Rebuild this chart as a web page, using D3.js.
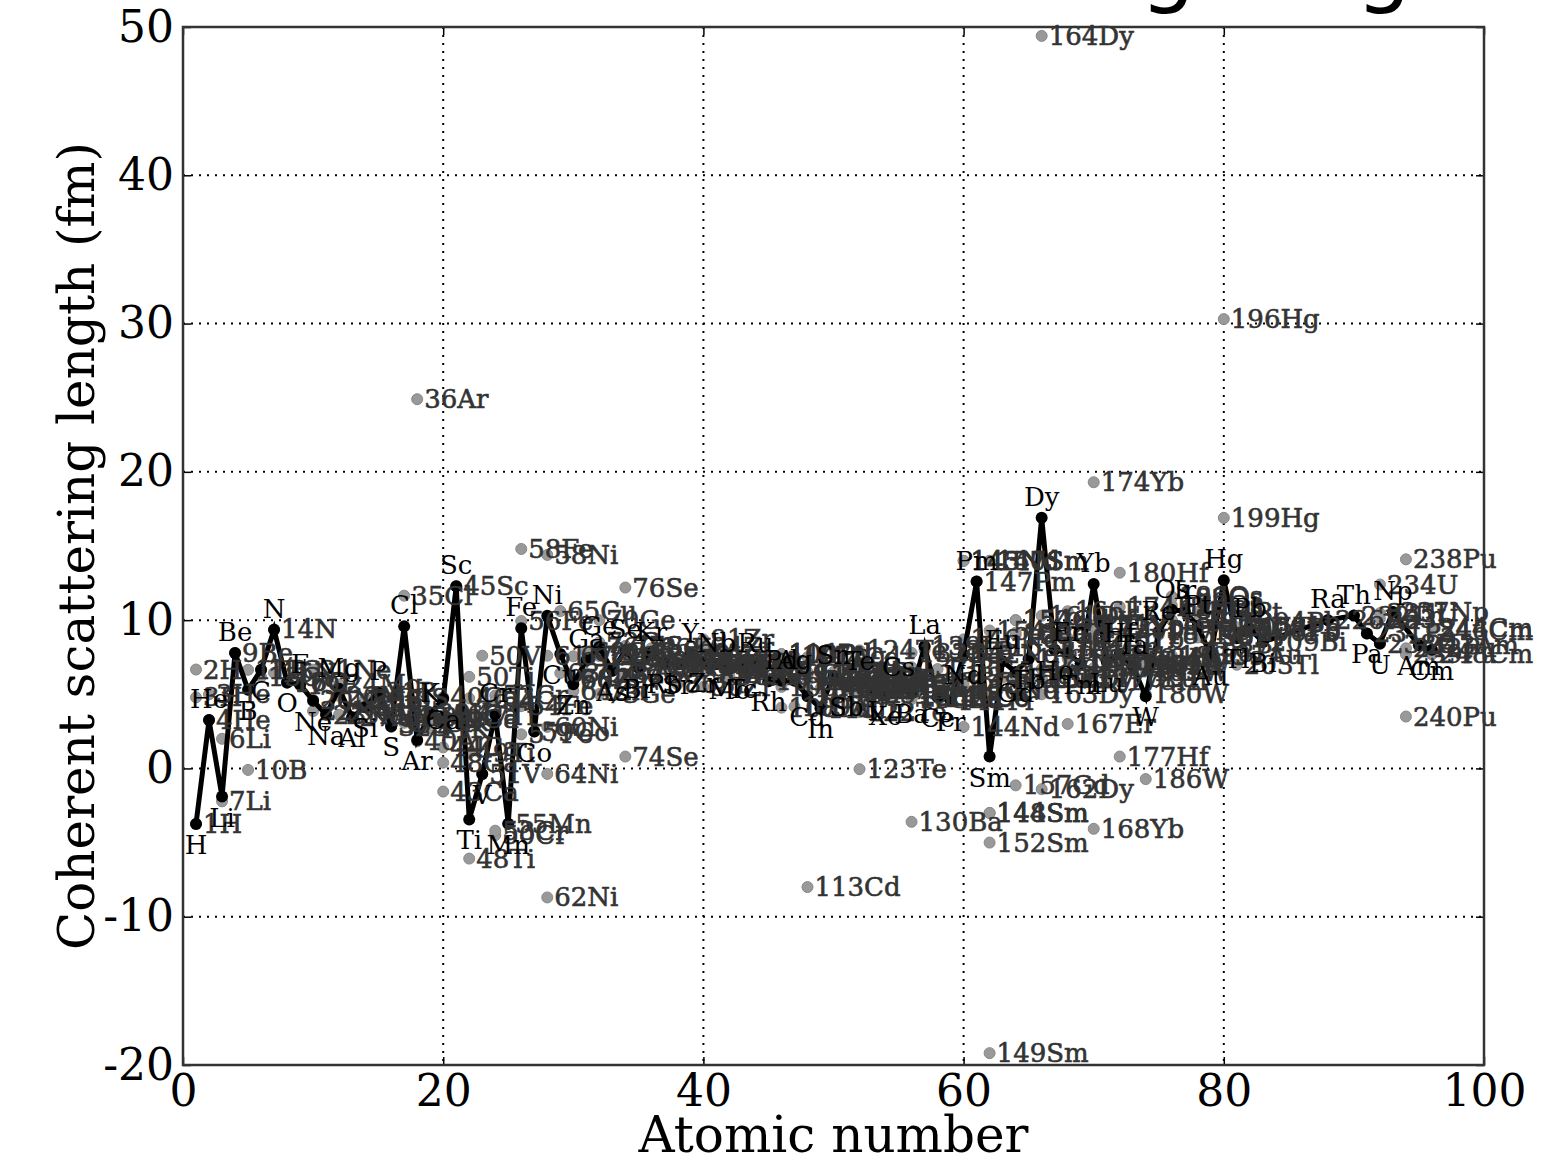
<!DOCTYPE html>
<html>
<head>
<meta charset="utf-8">
<script src="https://cdn.jsdelivr.net/npm/d3@7"></script>
<style>
  body { margin: 0; background: #fff; }
  svg { display: block; }
</style>
</head>
<body>
<div id="wrapper"></div>
<script>
// element symbols, Z = index + 1
const elementSymbols = ["H","He","Li","Be","B","C","N","O","F","Ne","Na","Mg","Al","Si","P","S","Cl","Ar","K","Ca",
  "Sc","Ti","V","Cr","Mn","Fe","Co","Ni","Cu","Zn","Ga","Ge","As","Se","Br","Kr","Rb","Sr","Y","Zr",
  "Nb","Mo","Tc","Ru","Rh","Pd","Ag","Cd","In","Sn","Sb","Te","I","Xe","Cs","Ba","La","Ce","Pr","Nd",
  "Pm","Sm","Eu","Gd","Tb","Dy","Ho","Er","Tm","Yb","Lu","Hf","Ta","W","Re","Os","Ir","Pt","Au","Hg",
  "Tl","Pb","Bi","Po","At","Rn","Fr","Ra","Ac","Th","Pa","U","Np","Pu","Am","Cm"]

// element coherent scattering lengths (fm), null = no value
const elementValues = [-3.74, 3.26, -1.90, 7.79, 5.30, 6.65, 9.36, 5.80, 5.65, 4.57, 3.63, 5.38, 3.45, 4.15, 5.13, 2.85, 9.58, 1.91, 3.67, 4.70,
  12.29, -3.44, -0.38, 3.64, -3.73, 9.45, 2.49, 10.3, 7.72, 5.68, 7.29, 8.19, 6.58, 7.97, 6.80, 7.81, 7.09, 7.02, 7.75, 7.16,
  7.05, 6.72, 6.8, 7.03, 5.88, 5.91, 5.92, 4.87, 4.07, 6.23, 5.57, 5.80, 5.28, 4.92, 5.42, 5.07, 8.24, 4.84, 4.58, 7.69,
  12.6, 0.80, 7.22, 6.5, 7.38, 16.9, 8.01, 7.79, 7.07, 12.43, 7.21, 7.7, 6.91, 4.86, 9.2, 10.7, 10.6, 9.6, 7.63, 12.69,
  8.78, 9.41, 8.53, null, null, null, null, 10.0, null, 10.31, 9.1, 8.42, 10.55, null, 8.3, 8.0]

// isotopes: label and coherent scattering length (fm)
const isotopeLabels = ["1H","2H","3H","3He","4He","6Li","7Li","9Be","10B","11B","12C","13C","14N","15N","16O","17O","18O","19F",
  "20Ne","21Ne","22Ne","23Na","24Mg","25Mg","26Mg","27Al","28Si","29Si","30Si","31P","32S","33S","34S","36S","35Cl","37Cl",
  "36Ar","38Ar","40Ar","39K","40K","41K","40Ca","42Ca","43Ca","44Ca","46Ca","48Ca","45Sc","46Ti","47Ti","48Ti","49Ti","50Ti",
  "50V","51V","50Cr","52Cr","53Cr","54Cr","55Mn","54Fe","56Fe","57Fe","58Fe","59Co","58Ni","60Ni","61Ni","62Ni","64Ni",
  "63Cu","65Cu","64Zn","66Zn","67Zn","68Zn","70Zn","69Ga","71Ga","70Ge","72Ge","73Ge","74Ge","76Ge","75As",
  "74Se","76Se","77Se","78Se","80Se","82Se","79Br","81Br","86Kr","85Rb","87Rb","84Sr","86Sr","87Sr","88Sr","89Y",
  "90Zr","91Zr","92Zr","94Zr","96Zr","93Nb","92Mo","94Mo","95Mo","96Mo","97Mo","98Mo","100Mo","99Tc","103Rh",
  "102Pd","104Pd","105Pd","106Pd","108Pd","110Pd","107Ag","109Ag","106Cd","108Cd","110Cd","111Cd","112Cd","113Cd","114Cd","116Cd",
  "113In","115In","112Sn","114Sn","115Sn","116Sn","117Sn","118Sn","119Sn","120Sn","122Sn","124Sn","121Sb","123Sb",
  "120Te","122Te","123Te","124Te","125Te","126Te","128Te","130Te","127I","133Cs",
  "130Ba","132Ba","134Ba","135Ba","136Ba","137Ba","138Ba","138La","139La","136Ce","138Ce","140Ce","142Ce","141Pr",
  "142Nd","143Nd","144Nd","145Nd","146Nd","148Nd","150Nd","147Pm","144Sm","147Sm","148Sm","149Sm","150Sm","152Sm","154Sm",
  "151Eu","153Eu","152Gd","154Gd","155Gd","156Gd","157Gd","158Gd","160Gd","159Tb",
  "156Dy","158Dy","160Dy","161Dy","162Dy","163Dy","164Dy","165Ho","162Er","164Er","166Er","167Er","168Er","170Er","169Tm",
  "168Yb","170Yb","171Yb","172Yb","173Yb","174Yb","176Yb","175Lu","176Lu",
  "174Hf","176Hf","177Hf","178Hf","179Hf","180Hf","180Ta","181Ta","180W","182W","183W","184W","186W","185Re","187Re",
  "184Os","186Os","187Os","188Os","189Os","190Os","192Os","190Pt","192Pt","194Pt","195Pt","196Pt","198Pt","197Au",
  "196Hg","199Hg","203Tl","205Tl","204Pb","206Pb","207Pb","208Pb","209Bi","226Ra","232Th","231Pa",
  "233U","234U","235U","238U","237Np","238Pu","239Pu","240Pu","242Pu","243Am","244Cm","246Cm","248Cm"]

const isotopeValues = [-3.74, 6.67, 4.79, 5.0, 3.26, 2.0, -2.22, 7.79, -0.1, 6.65, 6.65, 6.19, 9.37, 6.44, 5.80, 5.78, 5.84, 5.65,
  4.63, 6.66, 3.87, 3.63, 5.66, 3.62, 4.89, 3.45, 4.11, 4.70, 4.58, 5.13, 2.80, 4.74, 3.48, 3.0, 11.65, 3.08,
  24.9, 3.5, 1.83, 3.74, 3.1, 2.69, 4.80, 3.36, -1.56, 1.42, 3.6, 0.39, 12.29, 4.73, 3.53, -6.08, 1.04, 6.18,
  7.6, -0.40, -4.50, 4.92, -4.20, 4.55, -3.73, 4.2, 9.94, 2.3, 14.8, 2.49, 14.4, 2.8, 7.6, -8.7, -0.37,
  6.43, 10.61, 5.22, 5.97, 7.56, 6.03, 6.0, 7.88, 6.40, 10.0, 8.51, 5.02, 7.58, 8.2, 6.58,
  0.8, 12.2, 8.25, 8.24, 7.48, 6.34, 6.79, 6.78, 8.1, 7.03, 7.23, 7.0, 5.67, 7.40, 7.15, 7.75,
  6.4, 8.7, 7.4, 8.2, 5.5, 7.05, 6.91, 6.80, 6.91, 6.20, 7.24, 6.58, 6.73, 6.8, 5.88,
  7.7, 7.7, 5.5, 6.4, 4.1, 7.7, 7.56, 4.17, 5.0, 5.4, 5.9, 6.5, 6.4, -8.0, 7.5, 6.3,
  5.39, 4.01, 6.0, 6.2, 6.0, 5.93, 6.48, 6.07, 6.12, 6.49, 5.74, 5.97, 5.71, 5.38,
  5.3, 3.8, -0.05, 7.96, 5.02, 5.56, 5.89, 6.02, 5.28, 5.42,
  -3.6, 7.8, 5.7, 4.67, 4.91, 6.83, 4.84, 8.0, 8.24, 5.80, 6.70, 4.84, 4.75, 4.58,
  7.7, 14.0, 2.8, 14.0, 8.7, 5.7, 5.3, 12.6, -3.0, 14.0, -3.0, -19.2, 14.0, -5.0, 9.3,
  6.13, 8.22, 10.0, 10.0, 6.0, 6.3, -1.14, 9.0, 9.15, 7.38,
  6.1, 6.0, 6.7, 10.3, -1.4, 5.0, 49.4, 8.01, 8.8, 8.2, 10.6, 3.0, 7.4, 9.6, 7.07,
  -4.07, 6.77, 9.66, 9.43, 9.56, 19.3, 8.72, 7.24, 6.1,
  10.9, 6.61, 0.8, 5.9, 7.46, 13.2, 7.0, 6.91, 5.0, 6.97, 6.53, 7.48, -0.72, 9.0, 9.3,
  10.0, 11.6, 10.0, 7.6, 10.7, 11.0, 11.5, 9.0, 9.9, 10.55, 8.83, 9.89, 7.8, 7.63,
  30.3, 16.9, 6.99, 9.52, 9.90, 9.22, 9.28, 9.50, 8.53, 10.0, 10.31, 9.1,
  10.1, 12.4, 10.47, 8.40, 10.55, 14.1, 7.7, 3.5, 8.1, 8.3, 9.5, 9.3, 7.7]

const xTicks = [0, 20, 40, 60, 80, 100]
const yTicks = [-20, -10, 0, 10, 20, 30, 40, 50]

const titleText = "Coherent scattering length"
const xLabel = "Atomic number"
const yLabel = "Coherent scattering length (fm)"

// dimensions
let dims = {
  width: 1568,
  height: 1164,
  margin: { top: 27, right: 84, bottom: 99, left: 183 },
}
dims.boundedWidth = dims.width - dims.margin.left - dims.margin.right
dims.boundedHeight = dims.height - dims.margin.top - dims.margin.bottom

const serif = "'DejaVu Serif', serif"

const svg = d3.select("#wrapper")
  .append("svg")
    .attr("width", dims.width)
    .attr("height", dims.height)

const bounds = svg.append("g")
  .attr("transform", `translate(${dims.margin.left},${dims.margin.top})`)

// scales
const xScale = d3.scaleLinear()
  .domain([0, 100])
  .range([0, dims.boundedWidth])

const yScale = d3.scaleLinear()
  .domain([-20, 50])
  .range([dims.boundedHeight, 0])

// grid
const grid = bounds.append("g")
  .attr("stroke", "#000")
  .attr("stroke-width", 2)
  .attr("stroke-dasharray", "2,6")
grid.selectAll(".gx").data(xTicks.slice(1, -1)).join("line")
  .attr("x1", d => xScale(d)).attr("x2", d => xScale(d))
  .attr("y1", 0).attr("y2", dims.boundedHeight)
grid.selectAll(".gy").data(yTicks.slice(1, -1)).join("line")
  .attr("x1", 0).attr("x2", dims.boundedWidth)
  .attr("y1", d => yScale(d)).attr("y2", d => yScale(d))

// axes
const xAxis = bounds.append("g")
  .attr("transform", `translate(0,${dims.boundedHeight})`)
  .call(d3.axisBottom(xScale).tickValues(xTicks).tickFormat(d => String(d))
    .tickSizeInner(-8).tickSizeOuter(0).tickPadding(10))
const yAxis = bounds.append("g")
  .call(d3.axisLeft(yScale).tickValues(yTicks).tickFormat(d => String(d))
    .tickSizeInner(-8).tickSizeOuter(0).tickPadding(9))
const xAxisTop = bounds.append("g")
  .call(d3.axisTop(xScale).tickValues(xTicks).tickFormat("").tickSizeInner(-8).tickSizeOuter(0))
const yAxisRight = bounds.append("g")
  .attr("transform", `translate(${dims.boundedWidth},0)`)
  .call(d3.axisRight(yScale).tickValues(yTicks).tickFormat("").tickSizeInner(-8).tickSizeOuter(0))

;[xAxis, yAxis, xAxisTop, yAxisRight].forEach(ax => {
  ax.select(".domain").remove()
  ax.selectAll("line").attr("stroke", "#000").attr("stroke-width", 1.5)
  ax.selectAll("text").attr("font-family", serif).attr("font-size", 44).attr("fill", "#000")
})

// frame
bounds.append("rect")
  .attr("width", dims.boundedWidth)
  .attr("height", dims.boundedHeight)
  .attr("fill", "none")
  .attr("stroke", "#333")
  .attr("stroke-width", 2.5)

// isotopes
const isotopes = isotopeLabels.map((label, i) => {
  const sym = label.replace(/^[0-9]+/, "")
  return { label, z: elementSymbols.indexOf(sym) + 1, value: isotopeValues[i] }
})

bounds.append("g").selectAll("circle")
  .data(isotopes)
  .join("circle")
    .attr("cx", d => xScale(d.z))
    .attr("cy", d => yScale(d.value))
    .attr("r", 5.5)
    .attr("fill", "#999")
    .attr("stroke", "#888")
    .attr("stroke-width", 1)

// elements line
const elements = elementSymbols.map((s, i) => ({ symbol: s, z: i + 1, value: elementValues[i] }))
  .filter(d => d.value !== null)

const lineGenerator = d3.line()
  .x(d => xScale(d.z))
  .y(d => yScale(d.value))

bounds.append("path")
  .attr("d", lineGenerator(elements))
  .attr("fill", "none")
  .attr("stroke", "#000")
  .attr("stroke-width", 5)
  .attr("stroke-linejoin", "miter")

bounds.append("g").selectAll("circle")
  .data(elements)
  .join("circle")
    .attr("cx", d => xScale(d.z))
    .attr("cy", d => yScale(d.value))
    .attr("r", 6)
    .attr("fill", "#000")

// isotope labels
bounds.append("g").selectAll("text")
  .data(isotopes)
  .join("text")
    .attr("x", d => xScale(d.z) + 7)
    .attr("y", d => yScale(d.value) + 9)
    .attr("font-family", serif)
    .attr("font-size", 26)
    .attr("fill", "#333")
    .attr("stroke", "#333")
    .attr("stroke-width", 0.6)
    .text(d => d.label)

// element labels: above local peaks, below dips
bounds.append("g").selectAll("text")
  .data(elements)
  .join("text")
    .attr("x", d => xScale(d.z))
    .attr("y", (d, i) => {
      const nb = [elements[i - 1], elements[i + 1]].filter(Boolean)
      const avg = d3.mean(nb, e => e.value)
      return d.value >= avg ? yScale(d.value) - 12 : yScale(d.value) + 30
    })
    .attr("text-anchor", "middle")
    .attr("font-family", serif)
    .attr("font-size", 26)
    .attr("fill", "#000")
    .text(d => d.symbol)

// axis labels
svg.append("text")
  .attr("x", dims.margin.left + dims.boundedWidth / 2)
  .attr("y", 1152)
  .attr("text-anchor", "middle")
  .attr("font-family", serif)
  .attr("font-size", 50)
  .text(xLabel)

svg.append("text")
  .attr("transform", `translate(94,${dims.margin.top + dims.boundedHeight / 2}) rotate(-90)`)
  .attr("text-anchor", "middle")
  .attr("font-family", serif)
  .attr("font-size", 50)
  .text(yLabel)

// title, mostly above the page edge
svg.append("text")
  .attr("x", 330)
  .attr("y", -4)
  .attr("font-family", "'DejaVu Sans', sans-serif")
  .attr("font-size", 87)
  .attr("fill", "#000")
  .text(titleText)
</script>
</body>
</html>
